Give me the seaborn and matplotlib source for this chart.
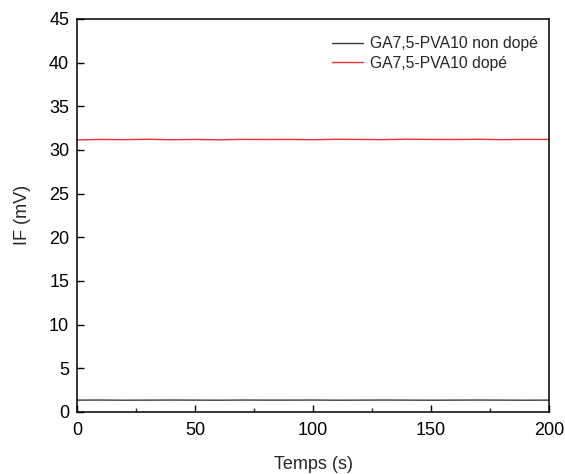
import numpy as np
import pandas as pd
import seaborn as sns
import matplotlib.pyplot as plt
from matplotlib.ticker import MultipleLocator

# values (time in s, IF in mV)
temps = [0, 10, 20, 30, 40, 50, 60, 70, 80, 90, 100,
         110, 120, 130, 140, 150, 160, 170, 180, 190, 200]
if_non_dope = [1.35, 1.36, 1.34, 1.35, 1.36, 1.35, 1.34, 1.36, 1.35, 1.35, 1.36,
               1.34, 1.35, 1.36, 1.35, 1.34, 1.35, 1.36, 1.35, 1.34, 1.35]
if_dope = [31.15, 31.2, 31.18, 31.22, 31.17, 31.2, 31.16, 31.21, 31.19, 31.2, 31.17,
           31.22, 31.2, 31.18, 31.23, 31.2, 31.19, 31.22, 31.18, 31.21, 31.2]
labels = ["GA7,5-PVA10 non dopé", "GA7,5-PVA10 dopé"]
couleurs = ["#3a3a3a", "#ec3035"]

df = pd.DataFrame({
    "t": temps * 2,
    "IF": if_non_dope + if_dope,
    "serie": [labels[0]] * len(temps) + [labels[1]] * len(temps),
})

sns.set_style("ticks")
plt.rcParams['font.family'] = ['Liberation Sans', 'DejaVu Sans']

fig = plt.figure(figsize=(5.65, 4.74), dpi=100)
ax = fig.add_axes([0.136, 0.131, 0.836, 0.829])

sns.lineplot(data=df, x="t", y="IF", hue="serie", palette=couleurs,
             linewidth=1.0, ax=ax)

ax.set_xlim(0, 200)
ax.set_ylim(0, 45)
ax.xaxis.set_major_locator(MultipleLocator(50))
ax.xaxis.set_minor_locator(MultipleLocator(25))
ax.yaxis.set_major_locator(MultipleLocator(5))
ax.tick_params(axis='both', which='major', direction='in', length=5, width=1,
               labelsize=13, colors='black')
ax.tick_params(axis='x', which='major', pad=7.5)
ax.tick_params(axis='y', which='major', pad=5.5)
ax.tick_params(axis='x', which='minor', direction='in', length=3, width=1)
for s in ax.spines.values():
    s.set_linewidth(1.1)
    s.set_color('black')

ax.set_xlabel("Temps (s)", fontsize=13, labelpad=12)
ax.set_ylabel("IF (mV)", fontsize=13, labelpad=13)

leg = ax.legend(loc='upper right', frameon=False, fontsize=11.3,
                bbox_to_anchor=(1.006, 0.992), handlelength=2.0,
                handletextpad=0.45, labelspacing=0.28)
leg.set_title(None)

fig.savefig("out.png", dpi=100)
